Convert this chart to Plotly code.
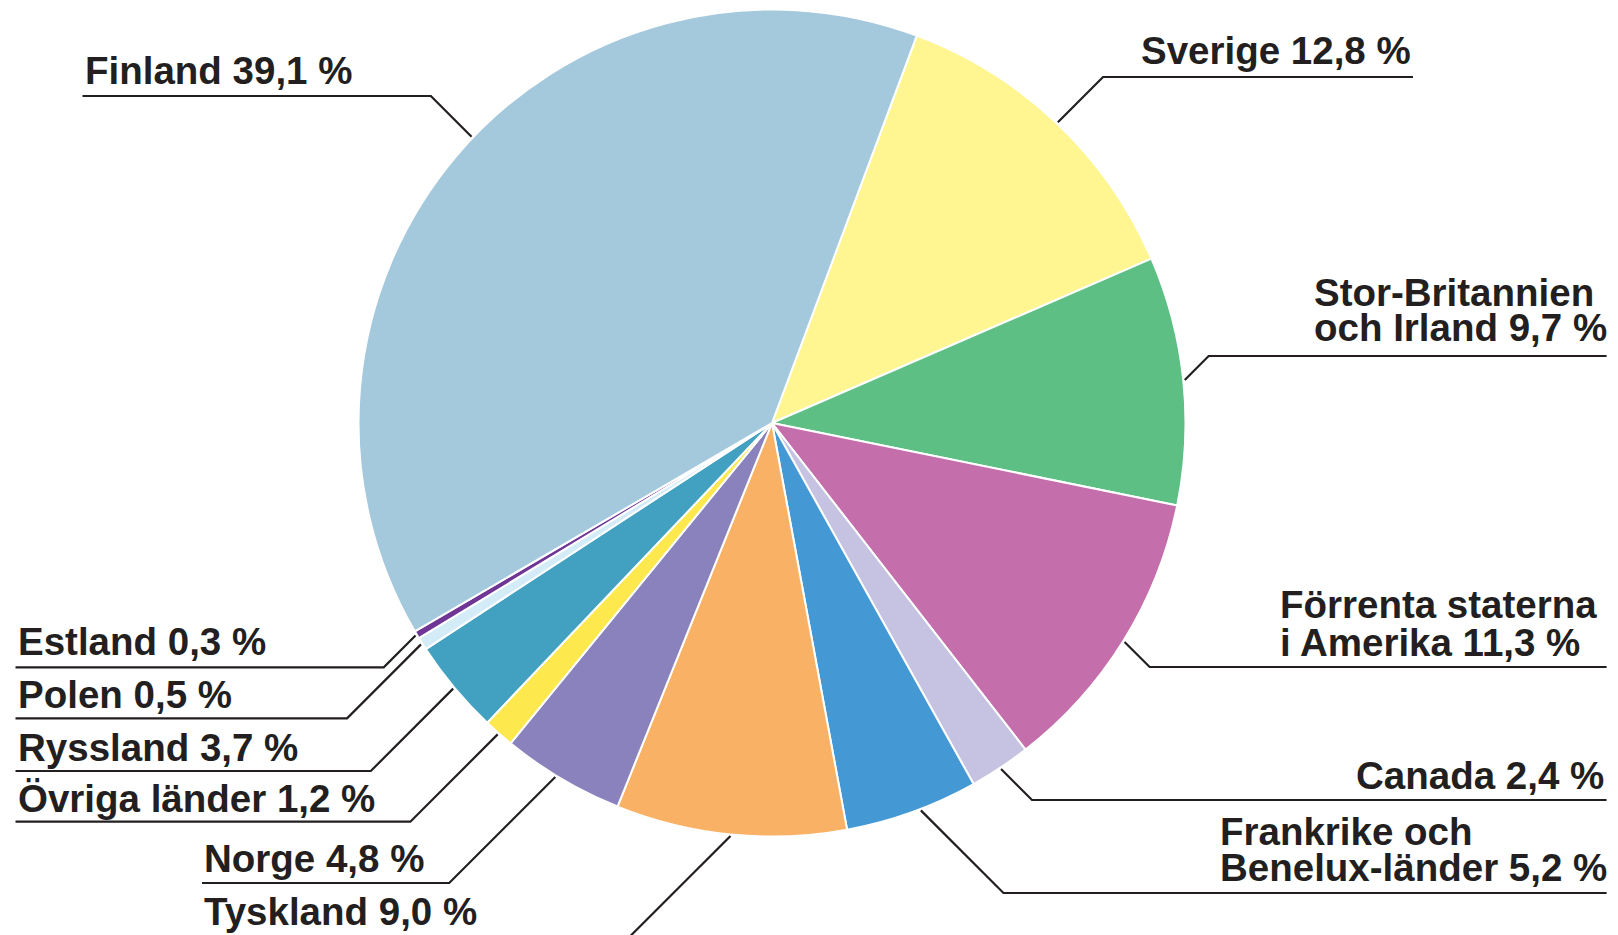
import math
import plotly.graph_objects as go

# ---------------- data ----------------
countries = ["Sverige", "Stor-Britannien och Irland", "Förrenta staterna i Amerika",
             "Canada", "Frankrike och Benelux-länder", "Tyskland", "Norge",
             "Övriga länder", "Ryssland", "Polen", "Estland", "Finland"]
shares = [12.8, 9.7, 11.3, 2.4, 5.2, 9.0, 4.8, 1.2, 3.7, 0.5, 0.3, 39.1]
# label text split into printed lines (value appended to the last line)
name_lines = [["Sverige"], ["Stor-Britannien", "och Irland"], ["Förrenta staterna", "i Amerika"],
              ["Canada"], ["Frankrike och", "Benelux-länder"], ["Tyskland"], ["Norge"],
              ["Övriga länder"], ["Ryssland"], ["Polen"], ["Estland"], ["Finland"]]
colors = ["#fff591", "#5dbf84", "#c46eab", "#c5c3e1", "#4499d5", "#f9b166",
          "#8a82bd", "#fde84d", "#42a0c0", "#d4ecf8", "#6f3696", "#a5c9dc"]

# ---------------- layout (pixels, window coordinates) ----------------
WIN_W, WIN_H = 1618, 935
OFF = 8                      # default page body margin
W, H = WIN_W - OFF, WIN_H - OFF
CX, CY, R = 772.0, 423.0, 413.5
ROT = 20.5
FONT = 38.5
INK = "#231f20"
# per label: xanchor, text x, baselines, leader y, outer end of leader,
# angular shift of leader start from slice middle (deg)
label_pos = [
    ("right", 1413.0, [65.0], 77.0, 1413.0, 0.0),
    ("left", 1311.6, [306.7, 341.7], 356.0, 1606.6, 0.0),
    ("left", 1277.5, [619.0, 657.0], 667.0, 1606.6, 0.0),
    ("right", 1606.0, [790.0], 800.0, 1606.6, 0.0),
    ("left", 1217.6, [846.0, 882.0], 893.0, 1606.6, -1.2),
    ("left", 202.0, [926.0], 940.0, 202.0, 0.0),
    ("left", 202.0, [873.0], 883.0, 202.0, 0.9),
    ("left", 15.5, [812.7], 821.7, 15.5, 0.0),
    ("left", 15.5, [761.7], 771.0, 15.5, 0.0),
    ("left", 15.5, [709.0], 718.3, 15.5, 0.0),
    ("left", 15.5, [656.0], 667.3, 15.5, 0.0),
    ("left", 82.5, [85.0], 96.0, 82.5, 3.5),
]


def px(x):
    return (x - OFF) / W


def py(y):
    return 1 - (y - OFF) / H


def fmt(v):
    return f"{v:.1f}".replace(".", ",") + " %"


fig = go.Figure()
fig.add_trace(go.Pie(
    labels=countries, values=shares, sort=False, direction="clockwise",
    rotation=ROT, textinfo="none", hoverinfo="skip", showlegend=False,
    marker=dict(colors=colors, line=dict(color="white", width=2)),
    domain=dict(x=[px(CX - R), px(CX + R)], y=[py(CY + R), py(CY - R)]),
))

annotations = []
shapes = []
total = sum(shares)
cum = 0.0
descent = 0.212 * FONT + 1
for i, v in enumerate(shares):
    a0 = ROT + cum / total * 360
    cum += v
    a1 = ROT + cum / total * 360
    side, tx, baselines, ly, ox, shift = label_pos[i]
    mid = math.radians((a0 + a1) / 2 + shift)
    ax = CX + (R + 1.5) * math.sin(mid)
    ay = CY - (R + 1.5) * math.cos(mid)
    sign = 1 if math.sin(mid) > 0 else -1
    ex = ax + sign * abs(ly - ay)
    shapes.append(dict(
        type="path", xref="paper", yref="paper",
        path=f"M {px(ax)} {py(ay)} L {px(ex)} {py(ly)} L {px(ox)} {py(ly)}",
        line=dict(color=INK, width=2.2),
    ))
    lines = list(name_lines[i])
    lines[-1] = lines[-1] + " " + fmt(v)
    for text, b in zip(lines, baselines):
        annotations.append(dict(
            text=f"<b>{text}</b>", x=px(tx), y=py(b + descent),
            xref="paper", yref="paper", xanchor=side, yanchor="bottom",
            showarrow=False, align=side,
            font=dict(family="Liberation Sans, Arial, sans-serif", size=FONT, color=INK),
        ))

fig.update_layout(
    width=W, height=H, margin=dict(l=0, r=0, t=0, b=0),
    paper_bgcolor="white", plot_bgcolor="white",
    annotations=annotations, shapes=shapes,
)

fig.write_html("out.html")
